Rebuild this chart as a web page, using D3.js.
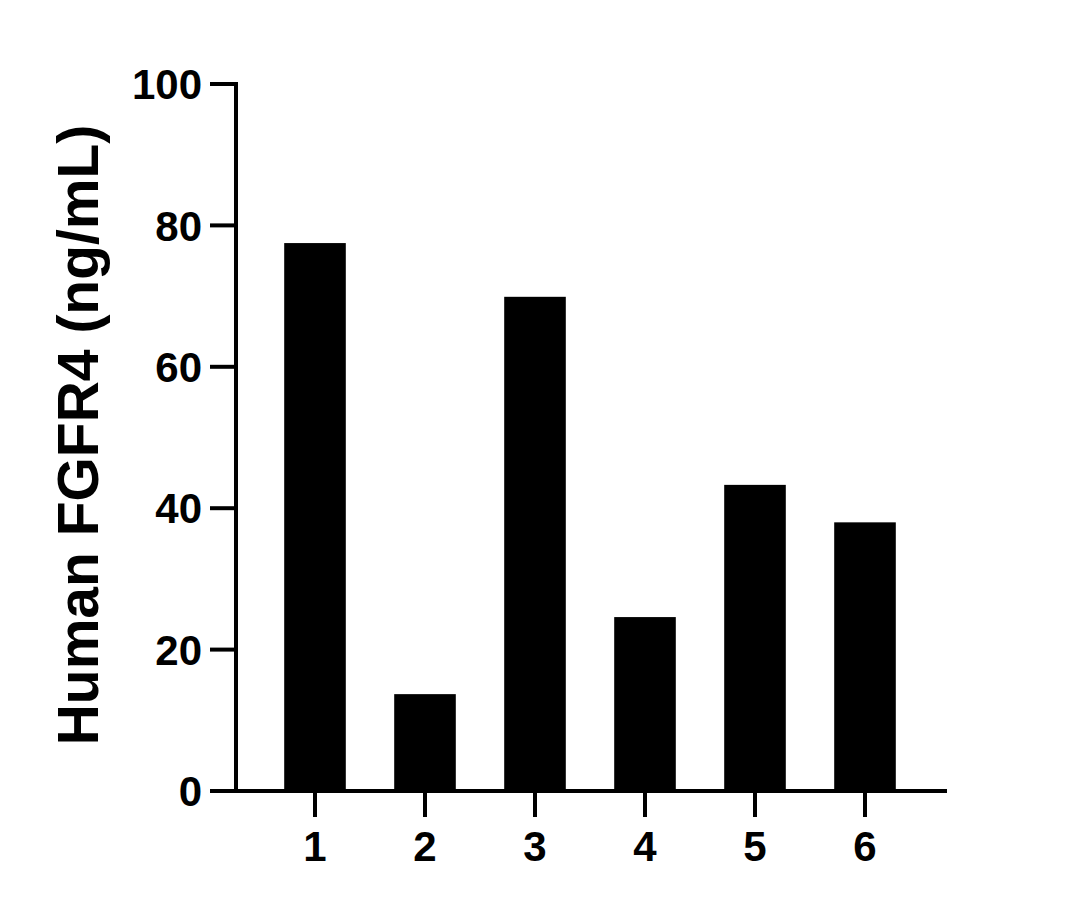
<!DOCTYPE html>
<html>
<head>
<meta charset="utf-8">
<script src="https://cdn.jsdelivr.net/npm/d3@7"></script>
<style>
html,body{margin:0;padding:0;background:#fff;}
svg{display:block;}
text{font-family:"Liberation Sans",Arial,sans-serif;font-weight:bold;fill:#000;}
</style>
</head>
<body>
<svg id="chart" width="1082" height="908"></svg>
<script>
const categories = ["1","2","3","4","5","6"];
const values = [77.5, 13.7, 69.9, 24.6, 43.3, 38.0];
const yTicks = [0, 20, 40, 60, 80, 100];
const yTitle = "Human FGFR4 (ng/mL)";

const svg = d3.select("#chart");
const y = d3.scaleLinear().domain([0, 100]).range([791, 84]);
const x = d3.scaleBand().domain(categories).range([260, 920])
  .paddingInner(0.44).paddingOuter(0.22);

const axisX0 = 236, axisX1 = 947;
const lw = 4;

// bars
svg.append("g").selectAll("rect").data(values).join("rect")
  .attr("x", (d, i) => x(categories[i]))
  .attr("width", x.bandwidth())
  .attr("y", d => y(d))
  .attr("height", d => y(0) - y(d))
  .attr("fill", "#000");

// y axis
const gy = svg.append("g");
gy.append("line").attr("x1", axisX0).attr("x2", axisX0)
  .attr("y1", y(100) - lw/2).attr("y2", y(0) + lw/2)
  .attr("stroke", "#000").attr("stroke-width", lw);
gy.selectAll(".t").data(yTicks).join("line")
  .attr("x1", 210).attr("x2", axisX0)
  .attr("y1", d => y(d)).attr("y2", d => y(d))
  .attr("stroke", "#000").attr("stroke-width", lw);
gy.selectAll("text").data(yTicks).join("text")
  .attr("x", 202).attr("y", d => y(d))
  .attr("dy", "0.36em")
  .attr("text-anchor", "end")
  .attr("font-size", 42)
  .text(d => d);

// x axis
const gx = svg.append("g");
gx.append("line").attr("x1", axisX0).attr("x2", axisX1)
  .attr("y1", y(0)).attr("y2", y(0))
  .attr("stroke", "#000").attr("stroke-width", lw);
gx.selectAll(".t").data(categories).join("line")
  .attr("x1", d => x(d) + x.bandwidth()/2).attr("x2", d => x(d) + x.bandwidth()/2)
  .attr("y1", y(0)).attr("y2", 817)
  .attr("stroke", "#000").attr("stroke-width", lw);
gx.selectAll("text").data(categories).join("text")
  .attr("x", d => x(d) + x.bandwidth()/2)
  .attr("y", 861)
  .attr("text-anchor", "middle")
  .attr("font-size", 42)
  .text(d => d);

// y title
svg.append("text")
  .attr("transform", "translate(98,435) rotate(-90)")
  .attr("text-anchor", "middle")
  .attr("font-size", 57)
  .text(yTitle);
</script>
</body>
</html>
